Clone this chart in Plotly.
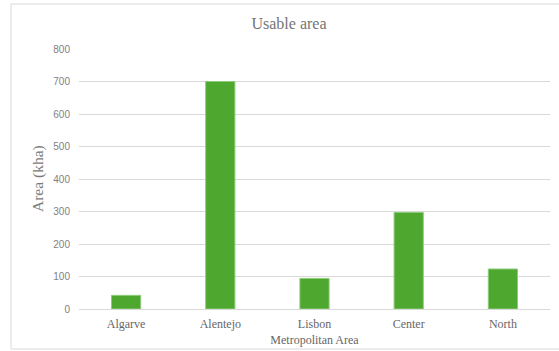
import plotly.graph_objects as go

categories = ["Algarve", "Alentejo", "Lisbon<br>Metropolitan Area", "Center", "North"]
usable_area_kha = [42, 700, 94, 297, 123]
y_ticks = [0, 100, 200, 300, 400, 500, 600, 700, 800]

W, H = 559, 351
L, R, T, B = 79, 9, 49, 42
pw = W - L - R
ph = H - T - B

fig = go.Figure(go.Bar(
    x=categories,
    y=usable_area_kha,
    marker=dict(color="#4EA72E", line=dict(color="#8ccc78", width=1)),
    width=0.31,
))

fig.update_layout(
    width=W, height=H,
    margin=dict(l=L, r=R, t=T, b=B),
    paper_bgcolor="white",
    plot_bgcolor="white",
    showlegend=False,
    title=dict(
        text="Usable area",
        x=289 / W, xref="container", xanchor="center",
        y=1 - 23 / H, yref="container", yanchor="middle",
        font=dict(family="Liberation Serif", size=16, color="#757575"),
    ),
    xaxis=dict(
        type="category",
        showgrid=False,
        showline=False,
        tickfont=dict(family="Liberation Serif", size=12, color="#666666"),
        ticks="",
        ticklabelstandoff=6,
        automargin=False,
    ),
    yaxis=dict(
        range=[0, 800],
        tickvals=y_ticks,
        showgrid=True,
        gridcolor="#d9d9d9",
        gridwidth=1,
        zeroline=True,
        zerolinecolor="#d9d9d9",
        zerolinewidth=1,
        showline=False,
        ticks="",
        ticklabelstandoff=8,
        automargin=False,
        tickfont=dict(family="Liberation Sans", size=10, color="#7f7f7f"),
    ),
    annotations=[dict(
        text="Area (kha)",
        xref="paper", yref="paper",
        x=(38 - L) / pw, y=0.5,
        xanchor="center", yanchor="middle",
        textangle=-90, showarrow=False,
        font=dict(family="Liberation Serif", size=15.5, color="#7a7a7a"),
    )],
    shapes=[dict(
        type="rect", xref="paper", yref="paper",
        x0=(11 - L) / pw, x1=(566 - L) / pw,
        y0=(H - B - 349) / ph, y1=1 + (T - 4) / ph,
        line=dict(color="#d9d9d9", width=1),
        fillcolor="rgba(0,0,0,0)",
        layer="below",
    )],
)

fig.write_html("out.html")
